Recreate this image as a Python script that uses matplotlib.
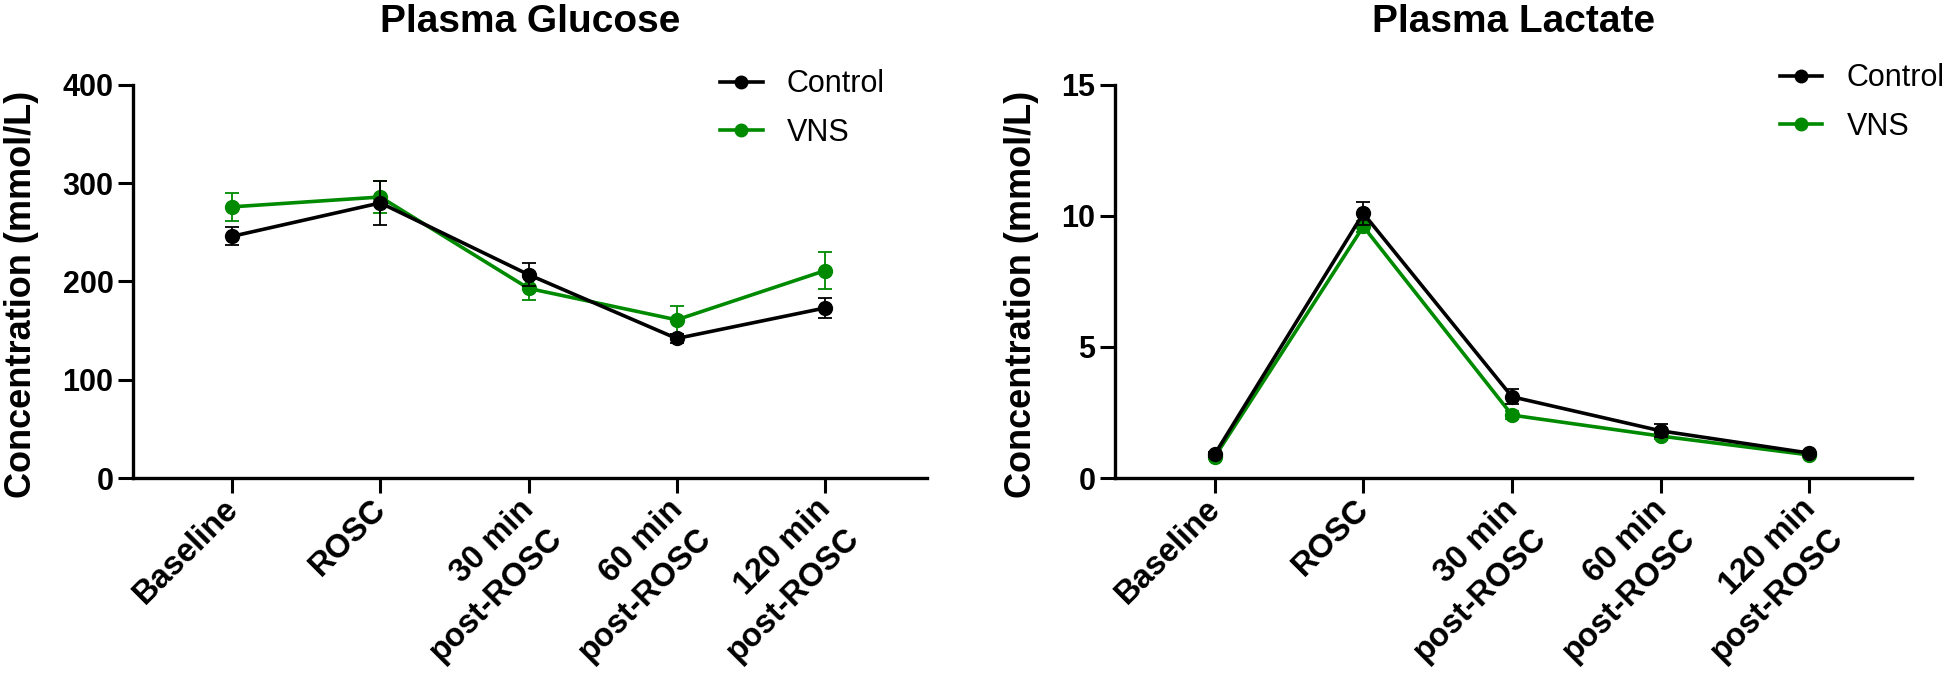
import numpy as np
import matplotlib.pyplot as plt
import matplotlib.transforms as mtrans
from matplotlib.lines import Line2D

plt.rcParams['font.family'] = ['Liberation Sans', 'DejaVu Sans']

timepoints = ["Baseline", "ROSC", "30 min\npost-ROSC", "60 min\npost-ROSC", "120 min\npost-ROSC"]

glucose_control = [246, 280, 207, 142, 173]
glucose_control_err = [9, 22, 12, 5, 10]
glucose_vns = [276, 286, 193, 161, 211]
glucose_vns_err = [14, 16, 12, 14, 19]

lactate_control = [0.9, 10.1, 3.1, 1.8, 0.95]
lactate_control_err = [0.1, 0.45, 0.28, 0.25, 0.08]
lactate_vns = [0.8, 9.6, 2.4, 1.6, 0.88]
lactate_vns_err = [0.08, 0.2, 0.15, 0.1, 0.06]

green = "#008a00"

fig = plt.figure(figsize=(19.44, 6.9), dpi=100)
ax1 = fig.add_axes([133/1944, 212/690, 794/1944, 393/690])
ax2 = fig.add_axes([1115/1944, 212/690, 797/1944, 393/690])

x = np.arange(len(timepoints))
# nudge rotated tick labels up-left
shift = mtrans.ScaledTranslation(-0.1, 0.22, fig.dpi_scale_trans)

def draw(ax, ctl, ctl_err, vns, vns_err, title, ymax, step, leg_xy):
    ax.errorbar(x, vns, yerr=vns_err, color=green, lw=2.6, marker='o', ms=10,
                capsize=5, elinewidth=1.3, capthick=1.3, zorder=3)
    ax.errorbar(x, ctl, yerr=ctl_err, color='black', lw=2.6, marker='o', ms=10,
                capsize=5, elinewidth=1.3, capthick=1.3, zorder=4)
    ax.set_xlim(-0.67, 4.69)
    ax.set_ylim(0, ymax)
    ax.set_yticks(np.arange(0, ymax + 1, step))
    ax.set_xticks(x)
    ax.tick_params(axis='y', labelsize=22, length=11, width=2.2, pad=3)
    ax.tick_params(axis='x', length=11, width=2.2, pad=16)
    ax.set_xticklabels(timepoints, rotation=45, ha='right', va='top',
                       rotation_mode='anchor', multialignment='right',
                       linespacing=1.4, fontsize=23.5, fontweight='bold')
    for lab in ax.get_xticklabels():
        lab.set_transform(lab.get_transform() + shift)
    for lab in ax.get_yticklabels():
        lab.set_fontweight('bold')
    for s in ['top', 'right']:
        ax.spines[s].set_visible(False)
    for s in ['left', 'bottom']:
        ax.spines[s].set_linewidth(2.4)
    ax.set_title(title, fontsize=28, fontweight='bold', pad=38)
    ax.set_ylabel("Concentration (mmol/L)", fontsize=26, fontweight='bold')
    handles = [Line2D([], [], color='black', lw=2.6, marker='o', ms=9),
               Line2D([], [], color=green, lw=2.6, marker='o', ms=9)]
    ax.legend(handles, ["Control", "VNS"], loc='upper left', bbox_to_anchor=leg_xy,
              frameon=False, fontsize=22, handlelength=1.4, handletextpad=0.8,
              borderpad=0, borderaxespad=0, labelspacing=0.6)

draw(ax1, glucose_control, glucose_control_err, glucose_vns, glucose_vns_err,
     "Plasma Glucose", 400, 100, (0.739, 1.04))
draw(ax2, lactate_control, lactate_control_err, lactate_vns, lactate_vns_err,
     "Plasma Lactate", 15, 5, (0.834, 1.055))

ax1.yaxis.set_label_coords(-0.118, 0.467)
ax2.yaxis.set_label_coords(-0.095, 0.467)

fig.savefig("out.png", dpi=100)
